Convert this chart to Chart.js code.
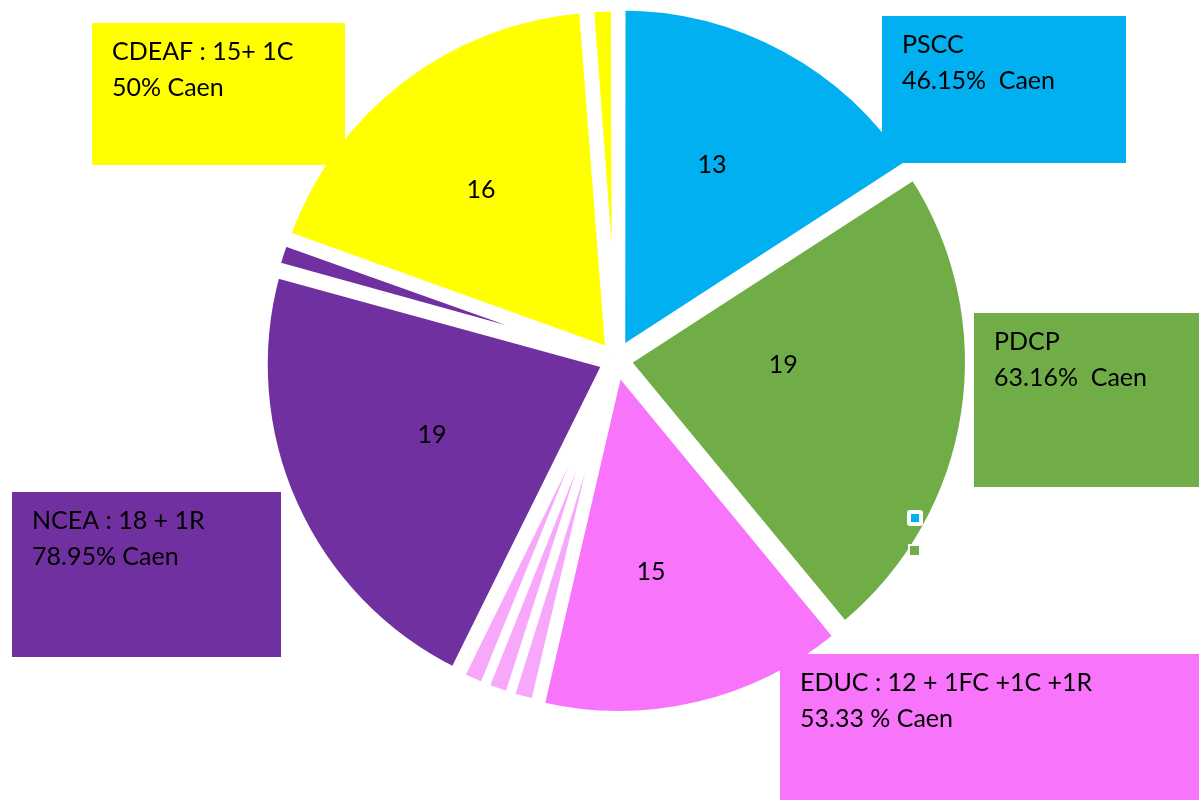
<!DOCTYPE html>
<html>
<head>
<meta charset="utf-8">
<script src="https://cdn.jsdelivr.net/npm/chart.js@4.4.0/dist/chart.umd.min.js"></script>
<style>
  body { margin: 0; background: #fff; }
  #wrap { width: 1199px; height: 800px; }
</style>
</head>
<body>
<div id="wrap"><canvas id="pie" width="1199" height="800"></canvas></div>
<script>
// slices, clockwise from 12 o'clock
var categories = ['PSCC', 'PDCP', 'EDUC', 'EDUC FC', 'EDUC C', 'EDUC R', 'NCEA', 'NCEA R', 'CDEAF', 'CDEAF C'];
var counts = [13, 19, 12, 1, 1, 1, 18, 1, 15, 1];
var sliceText = ['13', '19', '15', '', '', '', '19', '', '16', ''];
var colors = ['#00B0F0', '#70AD47', '#F774FB', '#F7A8FB', '#F7A8FB', '#F7A8FB', '#7030A0', '#7030A0', '#FFFF00', '#FFFF00'];

// callout boxes
var boxLine1 = ['PSCC', 'PDCP', 'EDUC : 12 + 1FC +1C +1R', 'NCEA : 18 + 1R', 'CDEAF : 15+ 1C'];
var boxLine2 = ['46.15%  Caen', '63.16%  Caen', '53.33 % Caen', '78.95% Caen', '50% Caen'];
var boxColors = ['#00B0F0', '#70AD47', '#F774FB', '#7030A0', '#FFFF00'];

var FONT = '25px Lato, "Open Sans", sans-serif';

// where the slice numbers sit: fraction of radius, and a nudge off the bisector (deg)
var labelFrac = [0.635, 0.489, 0.628, 0, 0, 0, 0.581, 0, 0.635, 0];
var labelTurn = [-2.3, -7, 3.8, 0, 0, 0, 2, 0, -1.1, 0];

var sliceLabels = {
    id: 'sliceLabels',
    afterDatasetsDraw: function(chart) {
        var c = chart.ctx;
        var meta = chart.getDatasetMeta(0);
        c.save();
        c.font = FONT;
        c.fillStyle = '#000';
        c.textAlign = 'center';
        c.textBaseline = 'middle';
        meta.data.forEach(function(arc, i) {
            if (!sliceText[i]) return;
            var mid = (arc.startAngle + arc.endAngle) / 2 + labelTurn[i] * Math.PI / 180;
            var r = arc.outerRadius * labelFrac[i];
            c.fillText(sliceText[i], arc.x + Math.cos(mid) * r, arc.y + Math.sin(mid) * r);
        });
        c.restore();
    }
};

var callouts = {
    id: 'callouts',
    afterDraw: function(chart) {
        var c = chart.ctx;
        var boxes = [
            [882, 16, 244, 147],
            [974, 313, 225, 174],
            [780, 654, 419, 146],
            [12, 492, 269, 165],
            [92, 23, 253, 142]
        ];
        c.save();
        boxes.forEach(function(b, i) {
            c.fillStyle = boxColors[i];
            c.fillRect(b[0], b[1], b[2], b[3]);
            c.fillStyle = '#000';
            c.font = FONT;
            c.textBaseline = 'alphabetic';
            c.fillText(boxLine1[i], b[0] + 20, b[1] + 37);
            c.fillText(boxLine2[i], b[0] + 20, b[1] + 73);
        });
        // leftover legend keys
        c.fillStyle = '#fff';
        c.beginPath();
        c.roundRect(907, 510, 16, 16, 3);
        c.fill();
        c.fillStyle = '#00B0F0';
        c.fillRect(911, 514, 8, 8);
        c.fillStyle = '#fff';
        c.fillRect(908, 544, 13, 13);
        c.fillStyle = '#70AD47';
        c.fillRect(910, 546, 9, 9);
        c.restore();
    }
};

var ctx = document.getElementById('pie').getContext('2d');
var myChart = new Chart(ctx, {
    type: 'pie',
    data: {
        labels: categories,
        datasets: [{
            data: counts,
            backgroundColor: colors,
            borderColor: '#ffffff',
            borderWidth: 8,
            radius: 342,
            offset: function(c) { return counts[c.dataIndex] > 1 ? 44 : 22; }
        }]
    },
    options: {
        responsive: false,
        animation: false,
        layout: {
            padding: { left: 33, right: 0, top: 0, bottom: 80 }
        },
        plugins: {
            legend: { display: false },
            tooltip: { enabled: false }
        }
    },
    plugins: [sliceLabels, callouts]
});
</script>
</body>
</html>
